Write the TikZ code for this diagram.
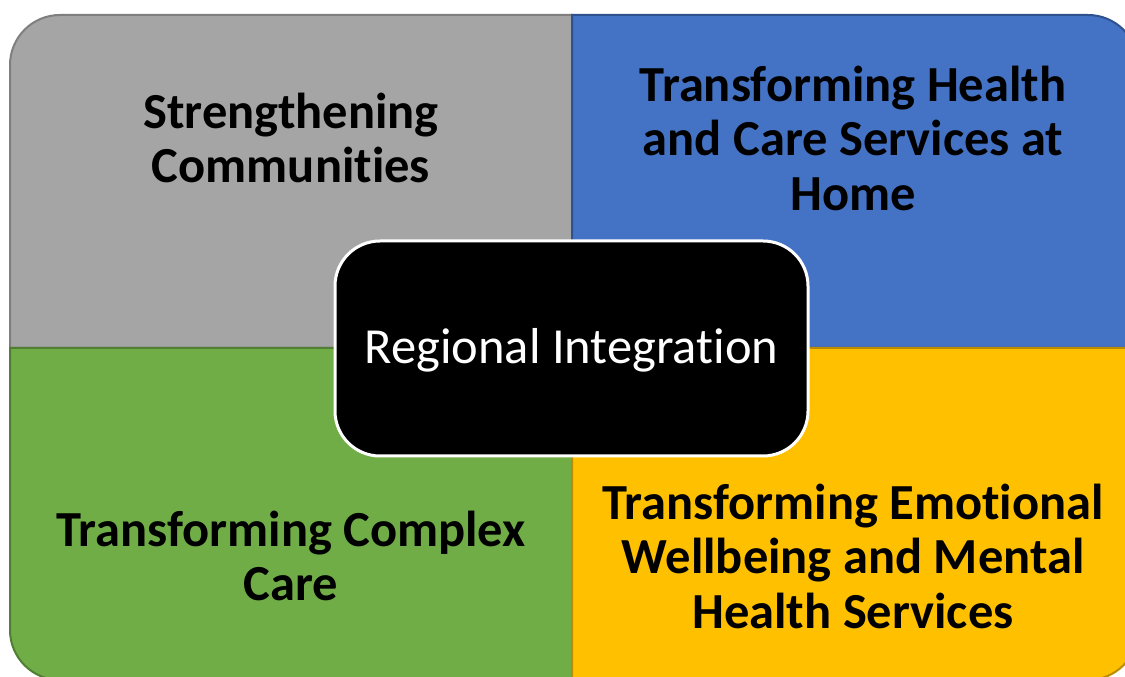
\documentclass[tikz,border=0pt]{standalone}
\usepackage{fontspec}
\setmainfont{Carlito}[RawFeature=-liga]
\definecolor{qgray}{HTML}{A5A5A5}
\definecolor{qgrayb}{HTML}{7F7F7F}
\definecolor{qblue}{HTML}{4472C4}
\definecolor{qblueb}{HTML}{2F528F}
\definecolor{qgreen}{HTML}{70AD47}
\definecolor{qgreenb}{HTML}{507E32}
\definecolor{qyellow}{HTML}{FFC000}
\definecolor{qyellowb}{HTML}{BC8C00}
\tikzset{
  quad/.style={line width=2pt},
  quadtext/.style={align=center, text=black, font=\fontsize{50.5}{54.5}\selectfont\bfseries, inner sep=0pt},
  centerbox/.style={fill=black, draw=white, line width=3pt, rounded corners=45pt,
    minimum width=473pt, minimum height=215pt, text=white,
    text height=41pt, text depth=10pt,
    font=\fontsize{50.5}{55}\selectfont, inner sep=0pt}
}
\begin{document}
\begin{tikzpicture}[x=1pt,y=1pt]
\path[use as bounding box, clip] (0,0) rectangle (1125,677);
\fill[white] (0,0) rectangle (1125,677);
% quadrants
\draw[quad, fill=qgray, draw=qgrayb] (572,329) -- (572,662) -- (60,662) arc[start angle=90, end angle=180, radius=50] -- (10,329) -- cycle;
\draw[quad, fill=qblue, draw=qblueb] (572,329) -- (572,662) -- (1088,662) arc[start angle=90, end angle=0, radius=50] -- (1138,329) -- cycle;
\draw[quad, fill=qgreen, draw=qgreenb] (572,329) -- (572,-3) -- (60,-3) arc[start angle=270, end angle=180, radius=50] -- (10,329) -- cycle;
\draw[quad, fill=qyellow, draw=qyellowb] (572,329) -- (572,-3) -- (1088,-3) arc[start angle=270, end angle=360, radius=50] -- (1138,329) -- cycle;
% texts
\node[quadtext] (tl) at (291,539) {Strengthening\\Communities};
\node[quadtext] (tr) at (853,539) {Transforming Health\\and Care Services at\\Home};
\node[quadtext] (bl) at (291,121) {Transforming Complex\\Care};
\node[quadtext] (br) at (853,121) {Transforming Emotional\\Wellbeing and Mental\\Health Services};
% center
\node[centerbox] (c) at (571.5,328.5) {Regional Integration};
\end{tikzpicture}
\end{document}
